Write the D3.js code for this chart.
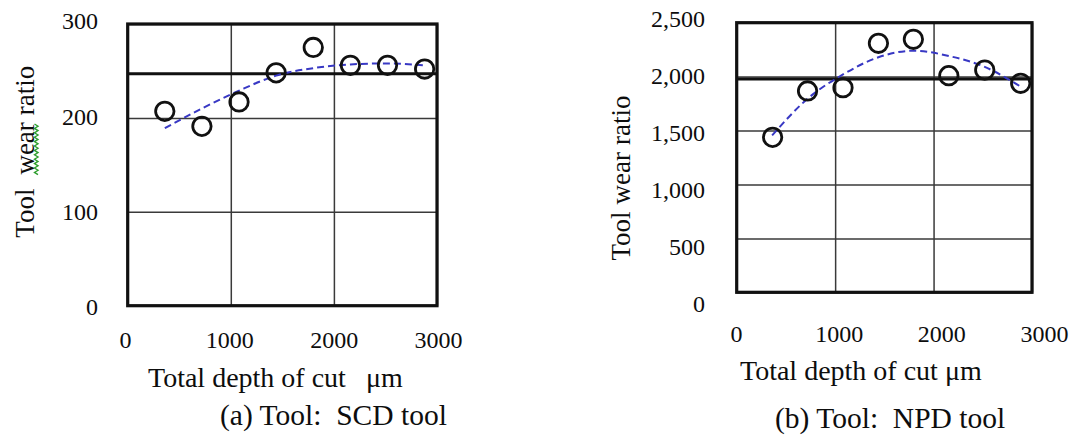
<!DOCTYPE html>
<meta charset="utf-8">
<style>
body { margin: 0; background: #fff; }
svg text { font-family: "Liberation Serif", "Times New Roman", serif; fill: #0d0d0d; }
.grid line { stroke: #3a3a3a; stroke-width: 1.5; }
.grid path { display: none; }
.lab path, .lab line { display: none; }
</style>
<body>
<div id="chart"></div>
<script src="https://cdn.jsdelivr.net/npm/d3@7"></script>
<script>
//---------------------------- DATA ----------------------------//
// depth of cut (µm) of each measured point
const depthA = [360, 720, 1080, 1440, 1800, 2160, 2520, 2880];
const depthB = [365, 720, 1080, 1440, 1795, 2155, 2520, 2885];
// tool wear ratio, (a) SCD tool and (b) NPD tool
const ratioA = [207, 191, 217, 248, 275, 256, 256, 252];
const ratioB = [1437, 1867, 1897, 2309, 2346, 2009, 2061, 1938];
// dashed trend curves, read at these depths
const trendDepth = [360, 720, 1080, 1440, 1800, 2160, 2520, 2880];
const trendA = [189, 210, 229, 245, 253, 257, 258, 256];
const trendB = [1455, 1795, 2020, 2180, 2240, 2190, 2090, 1910];
// thick horizontal reference line
const meanA = 247;
const meanB = 1978;
// ticks
const xTicks = [0, 1000, 2000, 3000];
const yTicksA = [0, 100, 200, 300];
const yTicksB = [0, 500, 1000, 1500, 2000, 2500];

//--------------------------- LAYOUT ---------------------------//
const W = 1075, H = 439;

const panels = [
  { depth: depthA, ratio: ratioA, trend: trendA, mean: meanA,
    yTicks: yTicksA, yMax: 300, fmt: d3.format("d"),
    xr: [127.7, 437], yr: [305.7, 24],          // plot box
    xl: [125, 438], yl: [307, 21],              // where the tick labels sit
    yLabX: 98, xLabY: 330.5,
    ytitle: { x: 34, y: 151.7, text: ["Tool", "wear", "ratio"], gap: 14, squiggle: true },
    xtitle: { x: 148, y: 386.7, a: "Total depth of cut", b: "μm", dx: 20 },
    caption: { x: 220, y: 425, text: "(a) Tool:  SCD tool" } },
  { depth: depthB, ratio: ratioB, trend: trendB, mean: meanB,
    yTicks: yTicksB, yMax: 2500, fmt: d3.format(","),
    xr: [736.7, 1032], yr: [292.3, 22.7],
    xl: [736, 1044], yl: [304, 19],
    yLabX: 705, xLabY: 324.7,
    ytitle: { x: 630, y: 178, text: ["Tool", "wear", "ratio"], gap: 7, squiggle: false },
    xtitle: { x: 740, y: 380, a: "Total depth of cut", b: "μm", dx: 7 },
    caption: { x: 775, y: 428, text: "(b) Tool:  NPD tool" } }
];

const svg = d3.select("#chart").append("svg")
    .attr("width", W)
    .attr("height", H);

//--------------------------- DRAW -----------------------------//
panels.forEach(function(p) {
  const x = d3.scaleLinear().domain([0, 3000]).range(p.xr);
  const y = d3.scaleLinear().domain([0, p.yMax]).range(p.yr);
  // the printed tick labels are spaced a little differently than the grid
  const xLab = d3.scaleLinear().domain([0, 3000]).range(p.xl);
  const yLab = d3.scaleLinear().domain([0, p.yMax]).range(p.yl);
  const w = p.xr[1] - p.xr[0], h = p.yr[0] - p.yr[1];

  const g = svg.append("g");

  // grid
  g.append("g")
      .attr("class", "grid")
      .attr("transform", "translate(0," + p.yr[0] + ")")
      .call(d3.axisBottom(x).tickValues(xTicks).tickSize(-h).tickFormat(""));
  g.append("g")
      .attr("class", "grid")
      .attr("transform", "translate(" + p.xr[0] + ",0)")
      .call(d3.axisLeft(y).tickValues(p.yTicks).tickSize(-w).tickFormat(""));

  // reference line
  g.append("line")
      .attr("x1", x(0)).attr("x2", x(3000))
      .attr("y1", y(p.mean)).attr("y2", y(p.mean))
      .attr("stroke", "#111").attr("stroke-width", 3.2);

  // frame
  g.append("rect")
      .attr("x", x(0)).attr("y", y(p.yMax))
      .attr("width", w).attr("height", h)
      .attr("fill", "none").attr("stroke", "#111").attr("stroke-width", 3.2);

  // tick labels
  g.append("g")
      .attr("class", "lab")
      .attr("transform", "translate(0," + p.xLabY + ")")
      .call(d3.axisBottom(xLab).tickValues(xTicks).tickSize(0).tickPadding(0).tickFormat(d3.format("d")))
      .call(s => s.selectAll("text").attr("font-size", 24).attr("font-family", null).attr("fill", null));
  g.append("g")
      .attr("class", "lab")
      .attr("transform", "translate(" + p.yLabX + ",0)")
      .call(d3.axisLeft(yLab).tickValues(p.yTicks).tickSize(0).tickPadding(0).tickFormat(p.fmt))
      .call(s => s.selectAll("text").attr("font-size", 24).attr("font-family", null).attr("fill", null));

  // trend curve
  const line = d3.line()
      .x(function(d, i) { return x(trendDepth[i]); })
      .y(function(d) { return y(d); })
      .curve(d3.curveMonotoneX);
  g.append("path")
      .datum(p.trend)
      .attr("d", line)
      .attr("fill", "none")
      .attr("stroke", "#3838c4")
      .attr("stroke-width", 2)
      .attr("stroke-dasharray", "7,4");

  // points
  g.selectAll("circle")
      .data(p.ratio)
    .enter().append("circle")
      .attr("cx", function(d, i) { return x(p.depth[i]); })
      .attr("cy", function(d) { return y(d); })
      .attr("r", 9.2)
      .attr("fill", "none")
      .attr("stroke", "#111")
      .attr("stroke-width", 2.8);

  // y title
  const yt = g.append("g")
      .attr("transform", "translate(" + p.ytitle.x + "," + p.ytitle.y + ") rotate(-90)");
  const ytext = yt.append("text")
      .attr("text-anchor", "middle")
      .attr("font-size", 27);
  ytext.append("tspan").text(p.ytitle.text[0]);
  ytext.append("tspan").attr("dx", p.ytitle.gap).text(p.ytitle.text[1]);
  ytext.append("tspan").attr("dx", 7).text(p.ytitle.text[2]);
  if (p.ytitle.squiggle) {
    // spell-check underline under "wear"
    const word = ytext.selectAll("tspan").nodes()[1];
    const bb = word.getBBox();
    const pts = [];
    for (let k = 0, xx = bb.x; xx <= bb.x + bb.width; k++, xx += 2.2) {
      pts.push([xx, k % 2 ? 0.5 : 4]);
    }
    yt.append("path")
        .attr("d", d3.line()(pts))
        .attr("fill", "none")
        .attr("stroke", "#2f9f2f")
        .attr("stroke-width", 1.4);
  }

  // x title
  const xt = g.append("text")
      .attr("x", p.xtitle.x)
      .attr("y", p.xtitle.y)
      .attr("font-size", 28);
  xt.append("tspan").text(p.xtitle.a);
  xt.append("tspan").attr("dx", p.xtitle.dx).text(p.xtitle.b);

  // caption
  g.append("text")
      .attr("x", p.caption.x)
      .attr("y", p.caption.y)
      .attr("font-size", 29.5)
      .style("white-space", "pre")
      .text(p.caption.text);
});
</script>
</body>
